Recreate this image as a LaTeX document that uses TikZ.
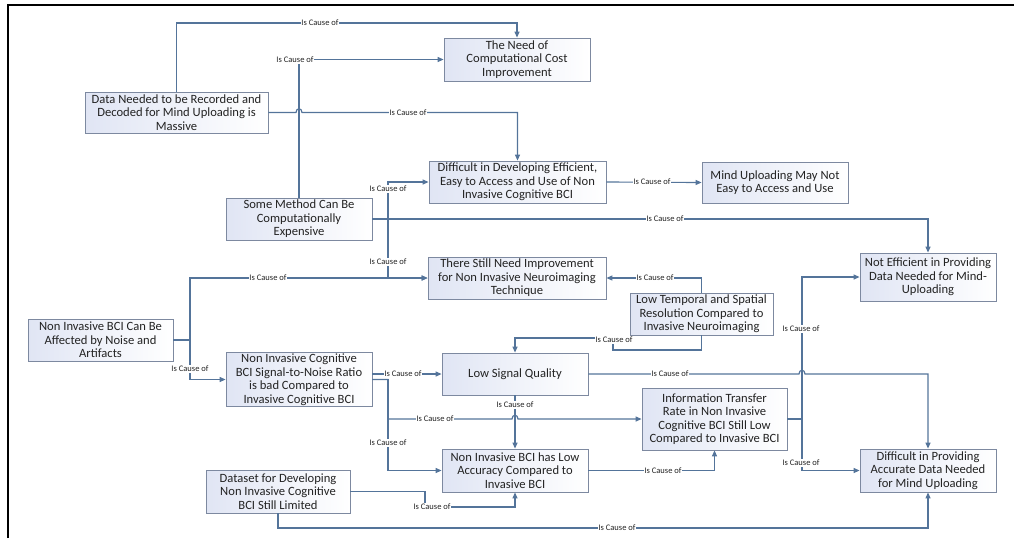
\documentclass[tikz,border=0pt]{standalone}
\usepackage{fontspec}
\setmainfont{Carlito}
\usetikzlibrary{arrows.meta}
\definecolor{linecol}{RGB}{84,116,154}
\definecolor{boxborder}{RGB}{125,137,160}
\definecolor{boxfill}{RGB}{224,229,244}
\definecolor{txtcol}{RGB}{35,35,35}
\begin{document}
\begin{tikzpicture}[x=1pt,y=-1pt,
  box/.style={draw=boxborder, line width=0.8pt, left color=boxfill, right color=white,
    align=center, inner xsep=2pt, inner ysep=1pt, text=txtcol,
    font=\fontsize{12.6}{13.5}\selectfont},
  conn/.style={draw=linecol, line width=1.15pt, -{Triangle[length=6pt,width=5pt]}},
  lbl/.style={fill=white, inner sep=0.6pt, text=txtcol, font=\fontsize{8.5}{9}\selectfont}]
\useasboundingbox (0,0) rectangle (1014,542);
\draw[black, line width=1.6pt] (8,538) -- (8,5) -- (1014,5);

% boxes
\node[box, minimum width=183pt, minimum height=41pt] (A) at (176.5,112.5) {Data Needed to be Recorded and\\Decoded for Mind Uploading is\\Massive};
\node[box, minimum width=146pt, minimum height=43pt] (B) at (517,59.5) {The Need of\\Computational Cost\\Improvement};
\node[box, minimum width=177pt, minimum height=42pt] (C) at (517.5,182) {Difficult in Developing Efficient,\\Easy to Access and Use of Non\\Invasive Cognitive BCI};
\node[box, minimum width=146pt, minimum height=41pt] (D) at (775,182.5) {Mind Uploading May Not\\Easy to Access and Use};
\node[box, minimum width=146pt, minimum height=42pt] (E) at (299,219) {Some Method Can Be\\Computationally\\Expensive};
\node[box, minimum width=178pt, minimum height=42pt] (F) at (517,278) {There Still Need Improvement\\for Non Invasive Neuroimaging\\Technique};
\node[box, minimum width=136pt, minimum height=48pt] (G) at (928,277) {Not Efficient in Providing\\Data Needed for Mind-\\Uploading};
\node[box, minimum width=145pt, minimum height=42pt] (H) at (100.5,340) {Non Invasive BCI Can Be\\Affected by Noise and\\Artifacts};
\node[box, minimum width=143pt, minimum height=42pt] (I) at (701.5,314) {Low Temporal and Spatial\\Resolution Compared to\\Invasive Neuroimaging};
\node[box, minimum width=146pt, minimum height=53pt] (J) at (299,379.5) {Non Invasive Cognitive\\BCI Signal-to-Noise Ratio\\is bad Compared to\\Invasive Cognitive BCI};
\node[box, minimum width=146pt, minimum height=42pt] (K) at (515,374) {Low Signal Quality};
\node[box, minimum width=145pt, minimum height=62pt] (L) at (714.5,419) {Information Transfer\\Rate in Non Invasive\\Cognitive BCI Still Low\\Compared to Invasive BCI};
\node[box, minimum width=146pt, minimum height=43pt] (M) at (515,470.5) {Non Invasive BCI has Low\\Accuracy Compared to\\Invasive BCI};
\node[box, minimum width=136pt, minimum height=43pt] (N) at (928,470.5) {Difficult in Providing\\Accurate Data Needed\\for Mind Uploading};
\node[box, minimum width=144pt, minimum height=43pt] (O) at (278,491.5) {Dataset for Developing\\Non Invasive Cognitive\\BCI Still Limited};

% connectors
\draw[conn] (A.north) -- (176.5,23) -| (B.north);
\draw[conn] (E.north) |- (B.west);
\draw[conn] (A.east) -- (296,112.5) .. controls (296,107.5) and (302,107.5) .. (302,112.5) -| (C.north);
\draw[conn] (C.east) -- (D.west);
\draw[conn] (E.east) -- (388,219) |- (C.west);
\draw[conn] (E.east) -- (388,219) |- (F.west);
\draw[conn] (E.east) -| (G.north);
\draw[conn] (H.east) -- (190,340) |- (F.west);
\draw[conn] (H.east) -- (190,340) |- (J.west);
\draw[conn] (I.north) |- (F.east);
\draw[conn] (I.south) |- (613,350) -- (613,338) -| (K.north);
\draw[conn] (J.east |- K.west) -- (K.west);
\draw[conn] (J.east) -- (388,379.5) -- (388,419) -- (512,419) .. controls (512,414) and (518,414) .. (518,419) -- (L.west);
\draw[conn] (J.east) -- (388,379.5) |- (M.west);
\draw[conn] (K.south) -- (M.north);
\draw[conn] (K.east) -- (799,374) .. controls (799,369) and (805,369) .. (805,374) -| (N.north);
\draw[conn] (L.east) -- (802,419) |- (G.west);
\draw[conn] (L.east) -- (802,419) |- (N.west);
\draw[conn] (M.east) -| (L.south);
\draw[conn] (O.east) -- (425,491.5) -- (425,507) -| (M.south);
\draw[conn] (O.south) -- (278,528) -| (N.south);

% labels
\node[lbl] (l1) at (320,23) {Is Cause of};
\node[lbl] (l2) at (295,60) {Is Cause of};
\node[lbl] (l3) at (408,112.5) {Is Cause of};
\node[lbl] (l4) at (388,189) {Is Cause of};
\node[lbl] (l5) at (652,182) {Is Cause of};
\node[lbl] (l6) at (665,219) {Is Cause of};
\node[lbl] (l7) at (388,262) {Is Cause of};
\node[lbl] (l8) at (268,278) {Is Cause of};
\node[lbl] (l9) at (655,278) {Is Cause of};
\node[lbl] (l10) at (190,369) {Is Cause of};
\node[lbl] (l11) at (403,374) {Is Cause of};
\node[lbl] (l12) at (614,340) {Is Cause of};
\node[lbl] (l13) at (801,329) {Is Cause of};
\node[lbl] (l14) at (515,405) {Is Cause of};
\node[lbl] (l15) at (670,374) {Is Cause of};
\node[lbl] (l16) at (435,419) {Is Cause of};
\node[lbl] (l17) at (388,443) {Is Cause of};
\node[lbl] (l18) at (663,470.5) {Is Cause of};
\node[lbl] (l19) at (801,463) {Is Cause of};
\node[lbl] (l20) at (432,507) {Is Cause of};
\node[lbl] (l21) at (617,528) {Is Cause of};
\end{tikzpicture}
\end{document}
